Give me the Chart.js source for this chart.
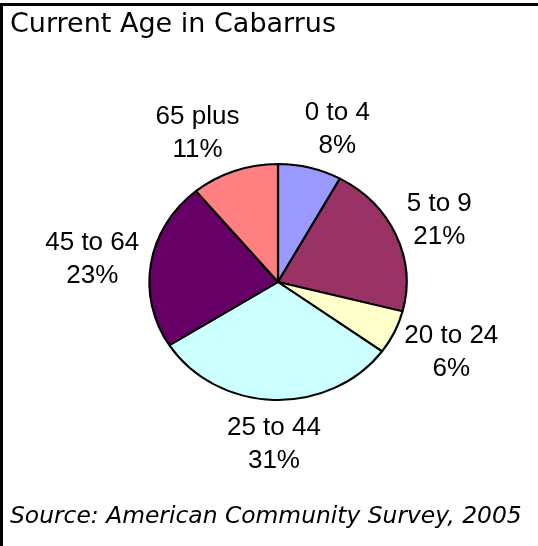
<!DOCTYPE html>
<html>
<head>
<meta charset="utf-8">
<script src="https://cdn.jsdelivr.net/npm/chart.js@4"></script>
<style>
  body { margin: 0; background: #fff; }
  canvas { display: block; }
</style>
</head>
<body>
<canvas id="pie" width="538" height="546"></canvas>
<script>
// age groups and their share (%)
const ageGroups = ["0 to 4", "5 to 9", "20 to 24", "25 to 44", "45 to 64", "65 plus"];
const shares = [8, 21, 6, 31, 23, 11];
const sliceColors = ["#9999FF", "#993366", "#FFFFCC", "#CCFFFF", "#660066", "#FF8080"];

const titleText = "Current Age in Cabarrus";
const sourceText = "Source: American Community Survey, 2005";

const stretchX = 1.09; // pie is a bit wider than tall

// white page, black rule on top and left, title and source
const framePlugin = {
  id: "frame",
  beforeDraw(chart) {
    const c = chart.ctx;
    c.save();
    c.fillStyle = "#fff";
    c.fillRect(0, 0, chart.width, chart.height);
    c.fillStyle = "#000";
    c.fillRect(0, 3, chart.width, 3);
    c.fillRect(0, 3, 3, chart.height);
    c.textAlign = "left";
    c.textBaseline = "alphabetic";
    c.font = "27px 'DejaVu Sans', Verdana, sans-serif";
    c.fillText(titleText, 10, 32);
    c.font = "italic 23.4px 'DejaVu Sans', Verdana, sans-serif";
    c.fillText(sourceText, 10, 523);
    c.restore();
  }
};

// squash the pie horizontally into an ellipse
const stretchPlugin = {
  id: "stretch",
  beforeDatasetsDraw(chart) {
    const arc = chart.getDatasetMeta(0).data[0];
    const c = chart.ctx;
    c.save();
    c.translate(arc.x, arc.y);
    c.scale(stretchX, 1);
    c.translate(-arc.x, -arc.y);
  },
  afterDatasetsDraw(chart) {
    chart.ctx.restore();
  }
};

// "label / xx%" outside each slice
const labelPlugin = {
  id: "sliceLabels",
  afterDraw(chart) {
    const c = chart.ctx;
    const meta = chart.getDatasetMeta(0);
    c.save();
    c.font = "26px 'Liberation Sans', Arial, sans-serif";
    c.fillStyle = "#000";
    c.textAlign = "center";
    c.textBaseline = "alphabetic";
    meta.data.forEach((arc, i) => {
      const line1 = ageGroups[i];
      const line2 = shares[i] + "%";
      const w = Math.max(c.measureText(line1).width, c.measureText(line2).width);
      const h = 51.6;
      const mid = (arc.startAngle + arc.endAngle) / 2;
      const cs = Math.cos(mid), sn = Math.sin(mid);
      const rx = arc.outerRadius * stretchX, ry = arc.outerRadius;
      const ax = arc.x + rx * cs, ay = arc.y + ry * sn;
      const fx = Math.abs(cs) < 0.1 ? 0 : Math.sign(cs) * Math.pow(Math.abs(cs), 0.35);
      const lx = ax + fx * (12 + w / 2);
      const ly = ay + sn * (16 + h / 2);
      c.fillText(line1, lx, ly - 7.2);
      c.fillText(line2, lx, ly + 25.8);
    });
    c.restore();
  }
};

new Chart(document.getElementById("pie"), {
  type: "pie",
  data: {
    labels: ageGroups,
    datasets: [{
      data: shares,
      backgroundColor: sliceColors,
      borderColor: "#000",
      borderWidth: 2,
      radius: 118,
      clip: false
    }]
  },
  options: {
    responsive: false,
    animation: false,
    devicePixelRatio: 1,
    layout: { padding: { left: 18, right: 0, top: 18, bottom: 0 } },
    plugins: {
      legend: { display: false },
      tooltip: { enabled: false },
      title: { display: false }
    }
  },
  plugins: [framePlugin, stretchPlugin, labelPlugin]
});
</script>
</body>
</html>
